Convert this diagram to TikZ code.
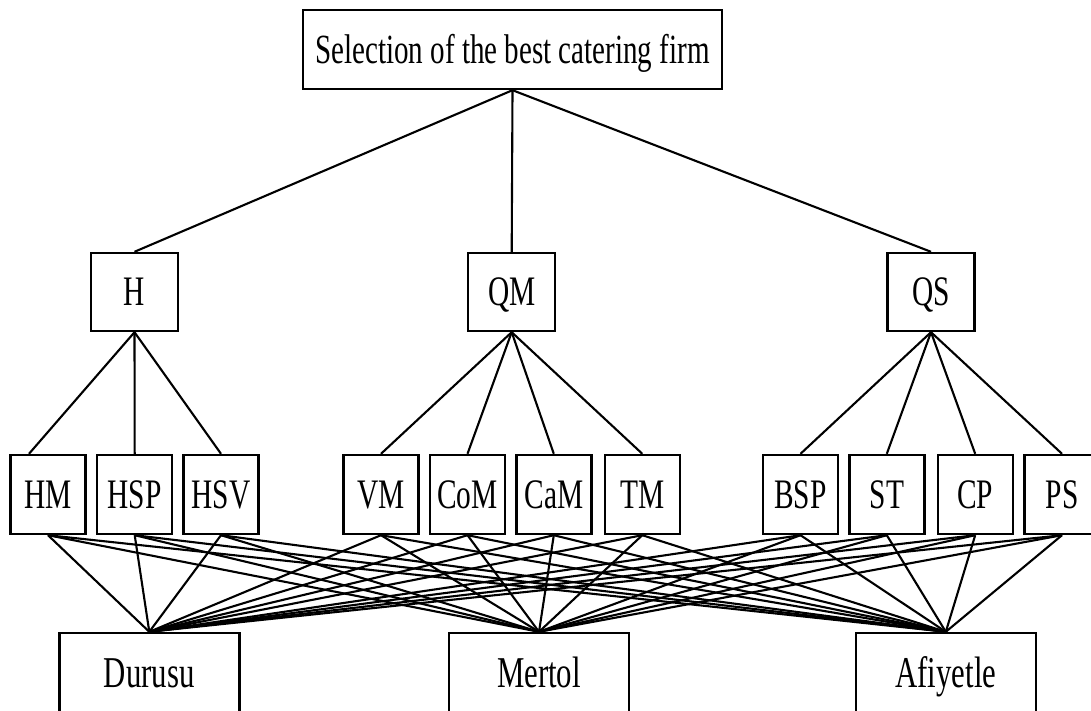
\documentclass[tikz,border=0pt]{standalone}
\usepackage{fontspec}
\newfontfamily\cond{Liberation Serif}[FakeStretch=0.7]
\begin{document}
\begin{tikzpicture}[x=1pt,y=-1pt,
  box/.style={draw, line width=2.4pt, inner sep=0pt, text height=27.5pt, text depth=0pt, font=\cond\fontsize{42}{42}\selectfont},
  leaf/.style={box, minimum width=75pt, minimum height=79pt},
  crit/.style={box, minimum width=87pt, minimum height=78pt},
  alt/.style={box, minimum width=180pt, minimum height=80pt, text height=29pt, font=\cond\fontsize{44}{44}\selectfont},
  link/.style={line width=2.1pt}]
\useasboundingbox (0,0) rectangle (1091,711);
\node[box, minimum width=419pt, minimum height=79pt, font=\cond\fontsize{41.5}{41.5}\selectfont] (goal) at (512.5,49.5) {Selection of the best catering firm};
\node[crit] (H)  at (134.5,292) {H};
\node[crit] (QM) at (511.7,292) {QM};
\node[crit] (QS) at (931,292) {QS};
\node[leaf] (HM)  at (48,494.5) {HM};
\node[leaf] (HSP) at (134.7,494.5) {HSP};
\node[leaf] (HSV) at (221,494.5) {HSV};
\node[leaf] (VM)  at (381,494.5) {VM};
\node[leaf] (CoM) at (467.5,494.5) {CoM};
\node[leaf] (CaM) at (553.8,494.5) {CaM};
\node[leaf] (TM)  at (642.3,494.5) {TM};
\node[leaf] (BSP) at (800.5,494.5) {BSP};
\node[leaf] (ST)  at (886.8,494.5) {ST};
\node[leaf] (CP)  at (975.2,494.5) {CP};
\node[leaf] (PS)  at (1062,494.5) {PS};
\node[alt] (D) at (149.3,673) {Durusu};
\node[alt] (M) at (539,673) {Mertol};
\node[alt] (A) at (945.8,673) {Afiyetle};
\coordinate (HMin) at ([xshift=-19pt]HM.north);
\foreach \c in {H,QM,QS} \draw[link] (goal.south) -- (\c.north);
\draw[link] (H.south) -- (HMin);
\foreach \c in {HSP,HSV} \draw[link] (H.south) -- (\c.north);
\foreach \c in {VM,CoM,CaM,TM} \draw[link] (QM.south) -- (\c.north);
\foreach \c in {BSP,ST,CP,PS} \draw[link] (QS.south) -- (\c.north);
\foreach \c in {HM,HSP,HSV,VM,CoM,CaM,TM,BSP,ST,CP,PS}
  \foreach \a in {D,M,A}
    \draw[link] (\c.south) -- (\a.north);
\end{tikzpicture}
\end{document}
